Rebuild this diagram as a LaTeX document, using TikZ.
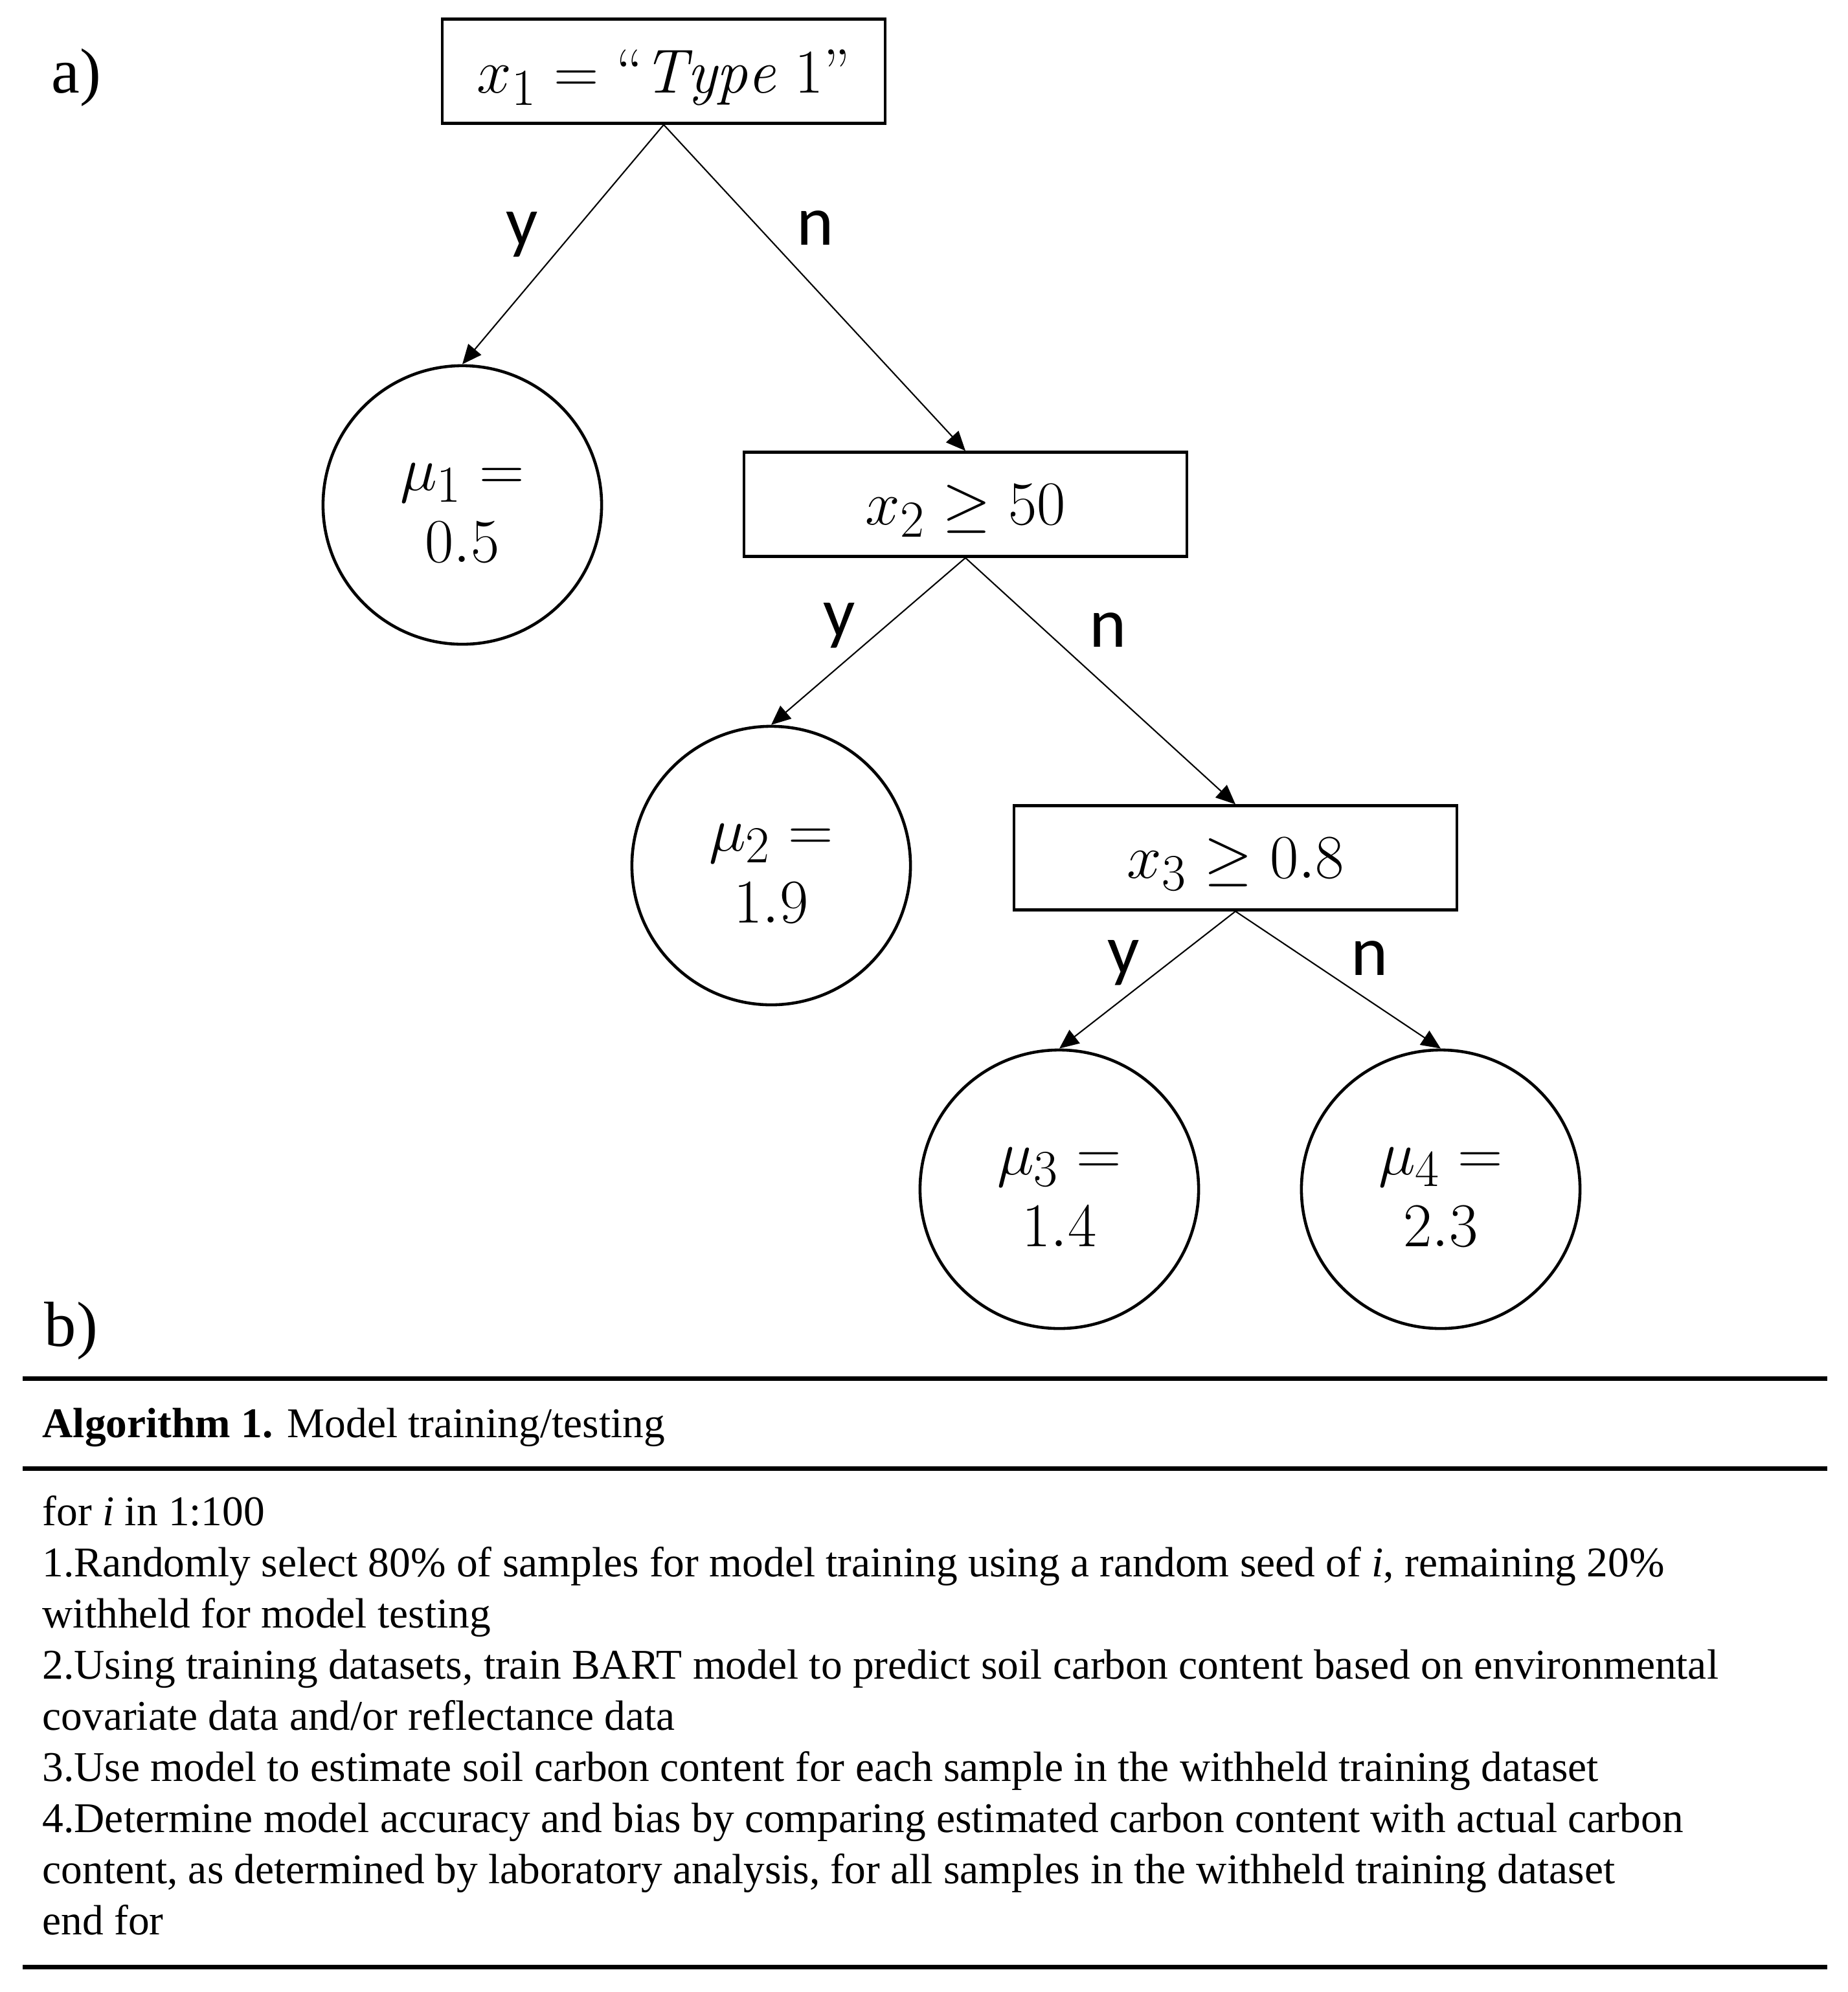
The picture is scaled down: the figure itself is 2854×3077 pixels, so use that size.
\documentclass[tikz,border=0pt]{standalone}
\usepackage{fontspec}
\newfontfamily\serifTNR{Liberation Serif}
\newfontfamily\labfont{Carlito}
\usetikzlibrary{arrows.meta}
\newcommand{\mathtxt}[1]{\scalebox{1.1}{$#1$}}
\newcommand{\lowerby}[2]{\raisebox{-#1}[\height][\depth]{#2}}
\begin{document}
\begin{tikzpicture}[x=0.01cm,y=-0.01cm,
  cond/.style={draw, line width=1.2pt, minimum width=6.84cm, minimum height=1.61cm, inner sep=0pt, font=\fontsize{24.88}{31}\selectfont},
  leaf/.style={draw, circle, line width=1.3pt, minimum size=4.3cm, inner sep=0pt, align=center, font=\fontsize{24.88}{30.7}\selectfont},
  edge/.style={line width=0.6pt, -{Triangle[length=0.3cm,width=0.26cm]}},
  yn/.style={inner sep=0pt, font=\labfont\fontsize{31}{36}\selectfont},
  body/.style={anchor=base west, inner sep=0pt, font=\serifTNR\fontsize{18.6}{22.5}\selectfont},
  panel/.style={inner sep=0pt, font=\serifTNR\fontsize{28}{32}\selectfont},
  rulepath/.style={line width=2pt}]
\useasboundingbox (0,0) rectangle (2854,3077);

% panel labels
\node[panel] (pa) at (118,120) {a)};
\node[panel] (pb) at (110,2056) {b)};

% tree
\node[cond] (b1) at (1025,110) {\lowerby{0.1cm}{\mathtxt{x_1 = \mbox{“}\mathit{Type}\ 1\mbox{”}}}};
\node[cond] (b2) at (1491,779) {\lowerby{0.1cm}{\mathtxt{x_2 \geq 50}}};
\node[cond] (b3) at (1908,1325) {\lowerby{0.1cm}{\mathtxt{x_3 \geq 0.8}}};
\node[leaf] (c1) at (714,780) {\lowerby{0.12cm}{\mathtxt{\mu_1 =}}\\[1pt]\lowerby{0.12cm}{\mathtxt{0.5}}};
\node[leaf] (c2) at (1191,1337) {\lowerby{0.12cm}{\mathtxt{\mu_2 =}}\\[1pt]\lowerby{0.12cm}{\mathtxt{1.9}}};
\node[leaf] (c3) at (1636,1837) {\lowerby{0.12cm}{\mathtxt{\mu_3 =}}\\[1pt]\lowerby{0.12cm}{\mathtxt{1.4}}};
\node[leaf] (c4) at (2225,1837) {\lowerby{0.12cm}{\mathtxt{\mu_4 =}}\\[1pt]\lowerby{0.12cm}{\mathtxt{2.3}}};

\draw[edge] (b1.south) -- (c1.north);
\draw[edge] (b1.south) -- (b2.north);
\draw[edge] (b2.south) -- (c2.north);
\draw[edge] (b2.south) -- (b3.north);
\draw[edge] (b3.south) -- (c3.north);
\draw[edge] (b3.south) -- (c4.north);

\node[yn] (y1) at (806,362) {y};
\node[yn] (n1) at (1259,352) {n};
\node[yn] (y2) at (1296,966) {y};
\node[yn] (n2) at (1711,973) {n};
\node[yn] (y3) at (1735,1487) {y};
\node[yn] (n3) at (2115,1480) {n};

% algorithm table
\draw[rulepath] (35,2129) -- (2822,2129);
\draw[rulepath] (35,2268) -- (2822,2268);
\draw[rulepath] (35,3038) -- (2822,3038);

\node[body] (cap) at (65,2220) {\textbf{Algorithm 1.} Model training/testing};
\node[body] (l1) at (65,2356) {for \textit{i} in 1:100};
\node[body] (l2) at (65,2435) {1.Randomly select 80\% of samples for model training using a random seed of \textit{i}, remaining 20\%};
\node[body] (l3) at (65,2514) {withheld for model testing};
\node[body] (l4) at (65,2593) {2.Using training datasets, train BART model to predict soil carbon content based on environmental};
\node[body] (l5) at (65,2672) {covariate data and/or reflectance data};
\node[body] (l6) at (65,2751) {3.Use model to estimate soil carbon content for each sample in the withheld training dataset};
\node[body] (l7) at (65,2830) {4.Determine model accuracy and bias by comparing estimated carbon content with actual carbon};
\node[body] (l8) at (65,2909) {content, as determined by laboratory analysis, for all samples in the withheld training dataset};
\node[body] (l9) at (65,2988) {end for};
\end{tikzpicture}
\end{document}
